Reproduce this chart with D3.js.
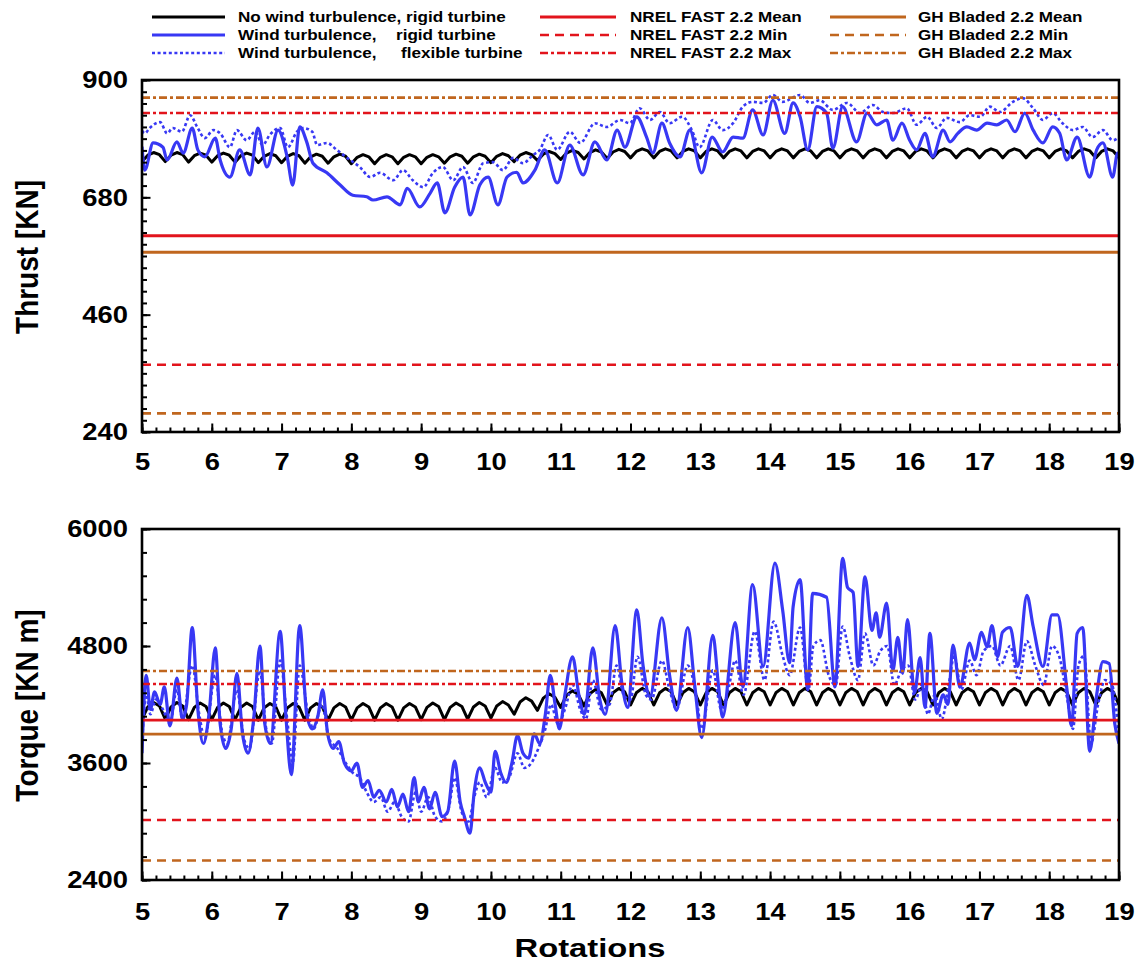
<!DOCTYPE html>
<html><head><meta charset="utf-8">
<script src="https://cdn.jsdelivr.net/npm/d3@7"></script>
<style>body{margin:0;background:#fff} svg{display:block}</style>
</head><body><svg id="c" width="1146" height="968"></svg>
<script>
// ---------------- DATA ----------------
const xTicks = [5,6,7,8,9,10,11,12,13,14,15,16,17,18,19];
const thrustTicks = [240,460,680,900];
const torqueTicks = [2400,3600,4800,6000];

// reference levels
const thrustNREL = {mean:608, min:366, max:838};
const thrustGH   = {mean:577, min:275, max:867};
const torqueNREL = {mean:4040, min:3015, max:4410};
const torqueGH   = {mean:3897, min:2600, max:4544};

// no turbulence, rigid turbine: samples every 1/12 rotation from 5 to 19
const noTurbStep = 1/12;
const thrustNoTurb = [
747,759,764,760, 747,759,764,760, 746,758,763,759,
746,758,763,759, 746,758,763,759, 745,757,762,758,
745,757,762,758, 744,756,761,757, 744,756,761,757,
743,755,760,756, 743,755,760,756, 743,755,760,756,
743,755,760,756, 744,756,761,757, 744,756,761,757,
745,757,762,758, 747,759,764,760, 749,761,766,762,
751,763,768,764, 752,764,769,765, 753,765,770,766,
754,766,771,767, 754,766,771,767, 754,766,771,767,
754,766,771,767, 754,766,771,767, 754,766,771,767,
754,766,771,767, 754,766,771,767, 754,766,771,767,
754,766,771,767, 754,766,771,767, 754,766,771,767,
754,766,771,767, 754,766,771,767, 754,766,771,767,
754,766,771,767, 754,766,771,767, 754,766,771,767,
754,766,771,767, 754,766,771,767, 754,766,771,767,
754];
const torqueNoTurb = [
4050,4175,4220,4185, 4050,4175,4220,4185, 4045,4170,4215,4180,
4045,4170,4215,4180, 4045,4170,4215,4180, 4040,4165,4210,4175,
4040,4165,4210,4175, 4040,4165,4210,4175, 4040,4165,4210,4175,
4040,4165,4210,4175, 4040,4165,4210,4175, 4040,4165,4210,4175,
4045,4170,4215,4180, 4045,4170,4215,4180, 4050,4175,4220,4185,
4060,4185,4230,4195, 4100,4225,4270,4235, 4140,4265,4310,4275,
4170,4295,4340,4305, 4185,4310,4355,4320, 4195,4320,4365,4330,
4195,4320,4365,4330, 4195,4320,4365,4330, 4195,4320,4365,4330,
4195,4320,4365,4330, 4195,4320,4365,4330, 4195,4320,4365,4330,
4195,4320,4365,4330, 4195,4320,4365,4330, 4195,4320,4365,4330,
4195,4320,4365,4330, 4195,4320,4365,4330, 4195,4320,4365,4330,
4195,4320,4365,4330, 4195,4320,4365,4330, 4195,4320,4365,4330,
4195,4320,4365,4330, 4195,4320,4365,4330, 4195,4320,4365,4330,
4195,4320,4365,4330, 4195,4320,4365,4330, 4195,4320,4365,4330,
4195];

// wind turbulence, rigid turbine  [rotation, value]
const thrustTurbRigid = [[5.00,775],[5.04,731],[5.16,782],[5.30,774],[5.36,750],[5.50,784],[5.59,763],[5.72,810],[5.80,769],[5.90,756],[6.05,791],[6.12,750],[6.26,718],[6.40,769],[6.55,722],[6.66,810],[6.79,737],[6.95,806],[7.08,756],[7.16,703],[7.26,812],[7.36,784],[7.45,744],[7.65,726],[7.84,703],[8.02,684],[8.22,681],[8.31,675],[8.51,681],[8.70,666],[8.80,697],[8.98,662],[9.13,688],[9.23,707],[9.34,651],[9.48,699],[9.60,718],[9.70,647],[9.84,703],[9.96,718],[10.10,666],[10.23,718],[10.37,727],[10.46,707],[10.63,731],[10.77,769],[10.95,707],[11.13,778],[11.32,722],[11.49,784],[11.66,750],[11.81,806],[11.92,774],[12.09,831],[12.23,793],[12.32,763],[12.45,819],[12.56,782],[12.71,756],[12.85,806],[13.02,726],[13.17,793],[13.32,765],[13.47,793],[13.61,791],[13.75,844],[13.90,797],[14.04,862],[14.21,800],[14.33,857],[14.43,831],[14.54,769],[14.67,850],[14.81,838],[14.90,772],[15.04,850],[15.24,784],[15.39,838],[15.53,816],[15.67,825],[15.76,787],[15.89,819],[16.00,787],[16.10,769],[16.22,800],[16.33,756],[16.48,806],[16.58,784],[16.69,800],[16.82,812],[16.96,806],[17.11,819],[17.25,816],[17.39,825],[17.51,803],[17.65,838],[17.77,806],[17.91,782],[18.05,812],[18.15,800],[18.25,750],[18.40,793],[18.58,718],[18.68,769],[18.77,782],[18.91,718],[18.98,763],[19.00,760]];

// wind turbulence, flexible turbine
const thrustTurbFlex = [[5.00,805],[5.04,800],[5.11,810],[5.26,821],[5.36,800],[5.44,810],[5.57,803],[5.69,834],[5.79,812],[5.90,791],[6.02,806],[6.12,800],[6.26,774],[6.36,806],[6.50,787],[6.62,803],[6.73,778],[6.83,797],[6.98,810],[7.09,774],[7.22,803],[7.31,810],[7.44,803],[7.51,778],[7.65,782],[7.79,769],[7.94,754],[8.12,737],[8.27,718],[8.41,726],[8.60,712],[8.74,731],[8.88,712],[9.03,699],[9.17,726],[9.31,737],[9.46,712],[9.60,737],[9.74,707],[9.89,744],[10.03,746],[10.17,731],[10.32,754],[10.46,744],[10.60,759],[10.70,769],[10.82,797],[10.95,769],[11.13,803],[11.28,782],[11.49,819],[11.66,812],[11.85,825],[11.99,819],[12.13,847],[12.28,825],[12.42,840],[12.56,819],[12.74,831],[12.88,806],[12.99,774],[13.18,825],[13.32,806],[13.47,819],[13.61,850],[13.75,859],[13.90,857],[14.04,872],[14.18,859],[14.43,872],[14.57,857],[14.71,862],[14.90,844],[15.10,857],[15.29,838],[15.47,853],[15.62,840],[15.76,838],[15.96,847],[16.10,816],[16.25,831],[16.39,810],[16.53,829],[16.72,821],[16.86,834],[17.01,831],[17.15,850],[17.29,840],[17.48,859],[17.62,866],[17.77,847],[17.91,825],[18.05,838],[18.19,819],[18.34,806],[18.48,812],[18.62,793],[18.77,806],[18.91,787],[19.00,793]];

const torqueTurbRigid = [[5.00,3700],[5.06,4500],[5.12,4150],[5.18,4330],[5.26,4200],[5.32,4380],[5.40,3980],[5.50,4470],[5.58,4050],[5.64,4200],[5.72,4990],[5.80,4150],[5.88,3800],[5.96,4100],[6.05,4780],[6.12,4000],[6.20,3750],[6.28,3960],[6.36,4520],[6.44,3900],[6.52,3700],[6.60,4050],[6.69,4800],[6.76,4000],[6.84,3800],[6.98,4950],[7.06,4100],[7.14,3480],[7.26,5010],[7.36,4100],[7.44,3950],[7.52,4080],[7.59,4350],[7.66,3900],[7.74,3750],[7.82,3820],[7.90,3600],[8.00,3520],[8.08,3600],[8.16,3350],[8.24,3420],[8.32,3250],[8.40,3320],[8.50,3200],[8.58,3330],[8.66,3150],[8.74,3280],[8.82,3100],[8.90,3450],[8.96,3200],[9.04,3350],[9.12,3130],[9.20,3300],[9.30,3050],[9.38,3100],[9.48,3620],[9.56,3200],[9.62,3050],[9.70,2880],[9.76,3300],[9.84,3550],[9.92,3400],[10.00,3300],[10.06,3720],[10.14,3500],[10.22,3400],[10.30,3600],[10.38,3880],[10.46,3700],[10.54,3650],[10.62,3900],[10.70,3800],[10.78,4100],[10.85,4500],[10.92,4200],[10.98,3950],[11.06,4300],[11.17,4690],[11.26,4300],[11.34,4100],[11.46,4780],[11.56,4250],[11.64,4100],[11.78,5010],[11.88,4400],[11.96,4170],[12.09,5170],[12.18,4600],[12.28,4280],[12.45,5090],[12.56,4500],[12.66,4140],[12.82,4990],[12.92,4400],[13.02,3860],[13.18,4910],[13.26,4400],[13.32,4070],[13.50,5040],[13.61,4380],[13.75,5430],[13.90,4590],[14.07,5650],[14.18,5170],[14.28,4630],[14.33,5200],[14.43,5480],[14.54,4350],[14.61,5340],[14.81,5300],[14.93,4380],[15.04,5700],[15.11,5400],[15.19,5350],[15.26,4590],[15.36,5510],[15.46,4960],[15.52,5140],[15.57,4890],[15.67,5240],[15.76,4550],[15.83,4890],[15.90,4520],[15.97,5070],[16.07,4320],[16.15,4680],[16.22,4170],[16.29,4930],[16.39,4110],[16.48,4300],[16.55,4200],[16.62,4810],[16.72,4380],[16.86,4830],[16.93,4660],[17.03,4940],[17.11,4790],[17.18,5010],[17.26,4690],[17.33,4940],[17.44,4990],[17.55,4590],[17.68,5320],[17.77,5000],[17.91,4590],[18.04,5120],[18.12,5120],[18.25,4380],[18.32,3980],[18.40,4930],[18.48,4990],[18.58,3720],[18.68,4300],[18.77,4640],[18.86,4620],[18.94,4000],[19.00,3800]];

const torqueTurbFlex = [[5.00,3800],[5.06,4300],[5.12,4100],[5.20,4250],[5.30,4150],[5.40,4000],[5.50,4350],[5.58,4050],[5.72,4600],[5.82,4100],[5.90,3850],[6.05,4500],[6.14,3950],[6.22,3800],[6.36,4350],[6.46,3850],[6.54,3750],[6.69,4550],[6.78,3950],[6.86,3800],[6.98,4650],[7.08,4050],[7.16,3600],[7.26,4600],[7.38,4100],[7.46,3950],[7.58,4200],[7.68,3850],[7.80,3750],[7.92,3600],[8.02,3500],[8.12,3450],[8.22,3300],[8.32,3200],[8.42,3250],[8.52,3100],[8.62,3200],[8.72,3050],[8.82,3000],[8.92,3300],[9.00,3100],[9.10,3250],[9.20,3050],[9.30,3000],[9.40,3150],[9.48,3450],[9.58,3100],[9.68,3000],[9.76,3250],[9.84,3400],[9.94,3250],[10.06,3550],[10.16,3400],[10.26,3450],[10.38,3700],[10.48,3550],[10.58,3600],[10.68,3750],[10.78,3950],[10.86,4200],[10.96,4000],[11.06,4150],[11.17,4400],[11.28,4150],[11.36,4050],[11.46,4450],[11.58,4150],[11.70,4200],[11.80,4600],[11.90,4300],[12.00,4250],[12.10,4690],[12.22,4300],[12.30,4250],[12.45,4650],[12.56,4350],[12.66,4150],[12.82,4600],[12.94,4300],[13.02,3950],[13.18,4550],[13.30,4150],[13.40,4350],[13.50,4650],[13.62,4300],[13.78,4950],[13.92,4450],[14.05,5050],[14.18,4700],[14.28,4500],[14.43,4990],[14.55,4350],[14.62,4800],[14.72,4860],[14.84,4500],[14.94,4400],[15.04,5000],[15.14,4700],[15.26,4450],[15.36,4930],[15.48,4600],[15.58,4750],[15.68,4800],[15.78,4400],[15.88,4550],[15.98,4600],[16.08,4250],[16.18,4400],[16.26,4100],[16.36,4300],[16.46,4050],[16.56,4400],[16.64,4700],[16.74,4350],[16.86,4650],[16.96,4500],[17.06,4750],[17.18,4800],[17.30,4600],[17.44,4800],[17.56,4450],[17.68,4850],[17.80,4600],[17.92,4400],[18.04,4800],[18.14,4700],[18.26,4250],[18.34,3950],[18.42,4600],[18.50,4700],[18.60,3800],[18.70,4200],[18.80,4450],[18.90,4400],[19.00,3850]];

const legendCol1 = ["No wind turbulence, rigid turbine", "Wind turbulence,", "Wind turbulence,"];
const legendCol1b = [null, "rigid turbine", "flexible turbine"];
const legendCol2 = ["NREL FAST 2.2 Mean", "NREL FAST 2.2 Min", "NREL FAST 2.2 Max"];
const legendCol3 = ["GH Bladed 2.2 Mean", "GH Bladed 2.2 Min", "GH Bladed 2.2 Max"];

// ---------------- STYLE ----------------
const FONT = '"Liberation Sans", Arial, Helvetica, sans-serif';
const SX = 1.14;
const BLUE = "#3838f4", RED = "#e2141c", BROWN = "#c0661e", BLACK = "#000";
const DASH = "9,6", DASHDOT = "8,3,3,3", DOT = "3,2.6";

const svg = d3.select("#c");
svg.append("rect").attr("width",1146).attr("height",968).attr("fill","#fff");

const x = d3.scaleLinear().domain([5,19]).range([142,1119]);

function text(g, px, py, s, size, anchor, rot, sx) {
  return g.append("text")
    .attr("transform", `translate(${px},${py}) scale(${sx || SX},1)` + (rot ? ` rotate(${rot})` : ""))
    .attr("font-family", FONT).attr("font-weight", "bold")
    .attr("font-size", size).attr("text-anchor", anchor || "start")
    .attr("fill", "#000").text(s);
}

function panel(cfg) {
  const y = d3.scaleLinear().domain(cfg.domain).range([cfg.bottom, cfg.top]);
  const g = svg.append("g");
  const clipId = "clip" + cfg.id;
  svg.append("clipPath").attr("id", clipId).append("rect")
    .attr("x", x(5)).attr("y", cfg.top).attr("width", x(19)-x(5)).attr("height", cfg.bottom-cfg.top);
  const plot = g.append("g").attr("clip-path", `url(#${clipId})`);

  const ln = d3.line().x(d => x(d[0])).y(d => y(d[1])).curve(d3.curveMonotoneX);
  const noTurbPts = cfg.noTurb.map((v,i) => [5 + i*noTurbStep, v]);
  plot.append("path").datum(noTurbPts).attr("d", d3.line().x(d=>x(d[0])).y(d=>y(d[1])))
    .attr("fill","none").attr("stroke",BLACK).attr("stroke-width",3).attr("stroke-linejoin","round");
  plot.append("path").datum(cfg.rigid).attr("d", ln)
    .attr("fill","none").attr("stroke",BLUE).attr("stroke-width",3.2).attr("stroke-linejoin","round");
  plot.append("path").datum(cfg.flex).attr("d", ln)
    .attr("fill","none").attr("stroke",BLUE).attr("stroke-width",2.6).attr("stroke-dasharray",DOT);

  const refs = [
    [cfg.nrel.mean, RED, null, 2.8], [cfg.nrel.min, RED, DASH, 2.6], [cfg.nrel.max, RED, DASHDOT, 2.6],
    [cfg.gh.mean, BROWN, null, 2.8], [cfg.gh.min, BROWN, DASH, 2.6], [cfg.gh.max, BROWN, DASHDOT, 2.6]
  ];
  plot.selectAll("line.ref").data(refs).enter().append("line")
    .attr("x1", x(5)).attr("x2", x(19)).attr("y1", d => y(d[0])).attr("y2", d => y(d[0]))
    .attr("stroke", d => d[1]).attr("stroke-width", d => d[3])
    .attr("stroke-dasharray", d => d[2]);

  // axes (ticks pointing inward)
  const xMinor = d3.range(5, 19.0001, 0.2);
  const gx = g.append("g").attr("transform", `translate(0,${cfg.bottom})`);
  gx.call(d3.axisBottom(x).tickValues(xMinor).tickSize(-4.5).tickFormat(""));
  const gx2 = g.append("g").attr("transform", `translate(0,${cfg.bottom})`);
  gx2.call(d3.axisBottom(x).tickValues(xTicks).tickSize(-8.5).tickPadding(cfg.xpad).tickFormat(d3.format("d")));
  const yMinor = d3.range(cfg.domain[0], cfg.domain[1] + 0.001, cfg.minor);
  const gy = g.append("g").attr("transform", `translate(${x(5)},0)`);
  gy.call(d3.axisLeft(y).tickValues(yMinor).tickSize(-5).tickFormat(""));
  const gy2 = g.append("g").attr("transform", `translate(${x(5)},0)`);
  gy2.call(d3.axisLeft(y).tickValues(cfg.ticks).tickSize(-8.5).tickPadding(12.3).tickFormat(d3.format("d")));
  [gx,gx2,gy,gy2].forEach(a => {
    a.select(".domain").remove();
    a.selectAll("line").attr("stroke","#000").attr("stroke-width",2);
    a.selectAll("text").attr("font-family",FONT).attr("font-weight","bold")
      .attr("font-size",24).attr("fill","#000").attr("transform",`scale(${SX},1)`);
  });
  gy2.selectAll("text").attr("x", -12.3);

  g.append("rect").attr("x", x(5)).attr("y", cfg.top).attr("width", x(19)-x(5)).attr("height", cfg.bottom-cfg.top)
    .attr("fill","none").attr("stroke","#000").attr("stroke-width",2.6);

  text(svg, 27, (cfg.top+cfg.bottom)/2 + 1, cfg.label, 28, "middle", -90).attr("dy","0.36em");
}

panel({id:1, top:80, bottom:432, domain:[240,900], ticks:thrustTicks, minor:22, xpad:21,
  noTurb:thrustNoTurb, rigid:thrustTurbRigid, flex:thrustTurbFlex, nrel:thrustNREL, gh:thrustGH, label:"Thrust [KN]"});
panel({id:2, top:529, bottom:880, domain:[2400,6000], ticks:torqueTicks, minor:240, xpad:23,
  noTurb:torqueNoTurb, rigid:torqueTurbRigid, flex:torqueTurbFlex, nrel:torqueNREL, gh:torqueGH, label:"Torque [KN m]"});

text(svg, 590, 957, "Rotations", 26, "middle", null, 1.26);

// legend
const rowsY = [17, 35, 53];
const lg = svg.append("g");
const col1Style = [[BLACK,null,3],[BLUE,null,3],[BLUE,DOT,2.6]];
const col2Style = [[RED,null,3],[RED,DASH,2.6],[RED,DASHDOT,2.6]];
const col3Style = [[BROWN,null,3],[BROWN,DASH,2.6],[BROWN,DASHDOT,2.6]];
function legendCol(x1, x2, tx, labels, styles, labels2, tx2) {
  labels.forEach((s,i) => {
    lg.append("line").attr("x1",x1).attr("x2",x2).attr("y1",rowsY[i]).attr("y2",rowsY[i])
      .attr("stroke",styles[i][0]).attr("stroke-width",styles[i][2]).attr("stroke-dasharray",styles[i][1]);
    text(lg, tx, rowsY[i], s, 15, "start").attr("dy","0.36em");
    if (labels2 && labels2[i]) text(lg, tx2[i], rowsY[i], labels2[i], 15, "start").attr("dy","0.36em");
  });
}
legendCol(152, 225, 238, legendCol1, col1Style, legendCol1b, [0, 396, 401]);
legendCol(540, 616, 630, legendCol2, col2Style);
legendCol(830, 906, 918, legendCol3, col3Style);
</script>
</body></html>
